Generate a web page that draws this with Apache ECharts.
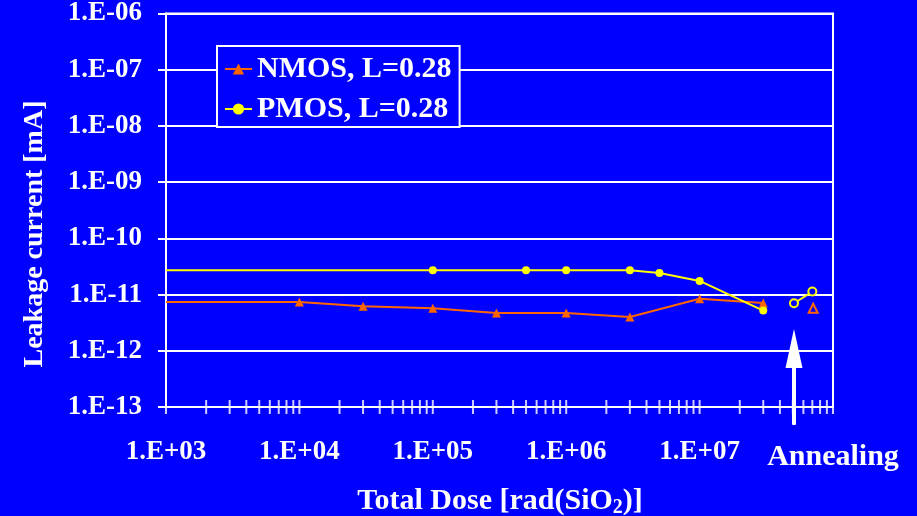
<!DOCTYPE html>
<html><head><meta charset="utf-8">
<script src="https://cdn.jsdelivr.net/npm/echarts@6/dist/echarts.min.js"></script>
<style>html,body{margin:0;padding:0;background:#0000FF}#c{width:917px;height:516px}</style>
</head><body><div id="c"></div>
<script>
// ---- data ----
const nmosDose = [1e3, 1e4, 3e4, 1e5, 3e5, 1e6, 3e6, 1e7, 3e7];
const nmosLeak = [7.4e-12, 7.4e-12, 6.2e-12, 5.7e-12, 4.7e-12, 4.7e-12, 4.0e-12, 8.4e-12, 7.1e-12];
const pmosDose = [1e3, 1e5, 5e5, 1e6, 3e6, 5e6, 1e7, 3e7];
const pmosLeak = [2.7e-11, 2.7e-11, 2.7e-11, 2.7e-11, 2.7e-11, 2.42e-11, 1.75e-11, 5.2e-12];
const nmosAnnealDose = [7.1e7];
const nmosAnnealLeak = [5.7e-12];
const pmosAnnealDose = [5.1e7, 7.0e7];
const pmosAnnealLeak = [7.0e-12, 1.13e-11];
const annealArrowDose = 5.1e7;
const xDecades = [3, 4, 5, 6, 7];
const tickMultipliers = [1, 2, 3, 4, 5, 6, 7, 8, 9];
const seriesNames = ['NMOS, L=0.28', 'PMOS, L=0.28'];

const FONT = "'Liberation Serif', 'Times New Roman', serif";
const ORANGE = '#FF6600', YELLOW = '#FFFF00', BG = '#0000FF';

const tickPts = [];
xDecades.forEach(d => tickMultipliers.forEach(m => tickPts.push([m * Math.pow(10, d), 1e-13])));
tickPts.push([1e8, 1e-13]);

const pair = (xs, ys) => xs.map((x, i) => [x, ys[i]]);
const nmosData = pair(nmosDose, nmosLeak).map((p, i) => i === 0 ? {value: p, symbol: 'none'} : p);
const pmosData = pair(pmosDose, pmosLeak).map((p, i) => i === 0 ? {value: p, symbol: 'none'} : p);

const chart = echarts.init(document.getElementById('c'), null, {renderer: 'canvas'});
const option = {
  backgroundColor: BG,
  animation: false,
  grid: {left: 166, right: 84, top: 12, bottom: 109, show: true, borderColor: '#fff', borderWidth: 2, backgroundColor: 'transparent'},
  legend: {
    data: seriesNames, orient: 'vertical', left: 217, top: 46,
    backgroundColor: BG, borderColor: '#fff', borderWidth: 2,
    padding: [8, 8, 3, 7], itemGap: 10, itemWidth: 27, itemHeight: 14,
    textStyle: {color: '#fff', fontSize: 30, fontWeight: 'bold', fontFamily: FONT}
  },
  xAxis: {
    type: 'log', min: 1e3, max: 1e8, logBase: 10,
    axisLine: {lineStyle: {color: '#fff', width: 2}},
    axisTick: {show: false},
    splitLine: {show: false},
    axisLabel: {
      color: '#fff', fontSize: 27, fontWeight: 'bold', fontFamily: FONT, margin: 32,
      formatter: v => { const e = Math.round(Math.log10(v)); return e >= 8 ? '' : '1.E+' + String(e).padStart(2, '0'); }
    }
  },
  yAxis: {
    type: 'log', min: 1e-13, max: 1e-6, logBase: 10, splitNumber: 7,
    axisLine: {show: true, lineStyle: {color: '#fff', width: 2}},
    axisTick: {show: true, length: 8, lineStyle: {color: '#fff', width: 2}},
    splitLine: {show: true, lineStyle: {color: '#fff', width: 2}},
    axisLabel: {
      color: '#fff', fontSize: 27, fontWeight: 'bold', fontFamily: FONT, margin: 24,
      formatter: v => { const e = Math.round(Math.log10(v)); return '1.E-' + String(-e).padStart(2, '0'); }
    }
  },
  series: [
    {name: seriesNames[0], type: 'line', data: nmosData, symbol: 'triangle', symbolSize: 9,
     itemStyle: {color: ORANGE}, lineStyle: {color: ORANGE, width: 2}, z: 5},
    {name: seriesNames[1], type: 'line', data: pmosData, symbol: 'circle', symbolSize: 8,
     itemStyle: {color: YELLOW}, lineStyle: {color: YELLOW, width: 2}, z: 5},
    {name: 'NMOS annealing', type: 'line', data: pair(nmosAnnealDose, nmosAnnealLeak), symbol: 'triangle', symbolSize: 9,
     showAllSymbol: true, itemStyle: {color: BG, borderColor: ORANGE, borderWidth: 2}, lineStyle: {color: ORANGE, width: 2}, z: 5},
    {name: 'PMOS annealing', type: 'line', data: pair(pmosAnnealDose, pmosAnnealLeak), symbol: 'circle', symbolSize: 8,
     itemStyle: {color: BG, borderColor: YELLOW, borderWidth: 2}, lineStyle: {color: YELLOW, width: 2}, z: 5},
    {name: 'xticks', type: 'scatter', data: tickPts, symbol: 'rect', symbolSize: [2, 14], clip: false, silent: true,
     itemStyle: {color: '#fff'}, z: 4}
  ]
};
chart.setOption(option);

const ax = chart.convertToPixel({xAxisIndex: 0}, annealArrowDose);
chart.setOption({
  graphic: [
    {type: 'polygon', shape: {points: [[ax, 329], [ax - 8.5, 368], [ax + 8.5, 368]]}, style: {fill: '#fff'}, z: 10},
    {type: 'rect', shape: {x: ax - 2, y: 366, width: 4, height: 59, r: 1}, style: {fill: '#fff'}, z: 10},
    {type: 'text', x: 833, y: 442, style: {text: 'Annealing', fill: '#fff', font: 'bold 30px ' + FONT, textAlign: 'center', textVerticalAlign: 'top'}, z: 10},
    {type: 'text', x: 35, y: 234, rotation: Math.PI / 2,
     style: {text: 'Leakage current [mA]', fill: '#fff', font: 'bold 28px ' + FONT, textAlign: 'center', textVerticalAlign: 'middle'}, z: 10},
    {type: 'text', x: 500, y: 501,
     style: {text: '{a|Total Dose [rad(SiO}{s|2}{a|)]}', fill: '#fff', textAlign: 'center', textVerticalAlign: 'middle',
       rich: {a: {fontSize: 30, fontWeight: 'bold', fontFamily: FONT, fill: '#fff', lineHeight: 32},
              s: {fontSize: 20, fontWeight: 'bold', fontFamily: FONT, fill: '#fff', lineHeight: 32, padding: [13, 0, 0, 0]}}}, z: 10}
  ]
});
</script></body></html>
